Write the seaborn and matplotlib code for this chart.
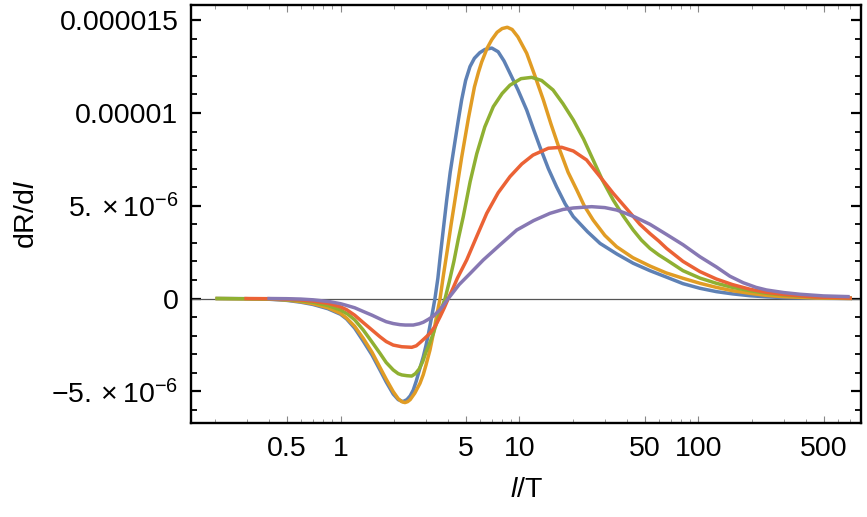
import numpy as np
import pandas as pd
import matplotlib
matplotlib.use('Agg')
import matplotlib.pyplot as plt
import seaborn as sns
from matplotlib.ticker import FixedLocator, LogLocator, NullFormatter

# curve values (y in units of 1e-6)
blue_x = [0.2, 0.3, 0.4, 0.5, 0.6, 0.7, 0.85, 1.0, 1.08, 1.2, 1.34, 1.5, 1.66, 1.8, 1.97, 2.1, 2.23,
          2.35, 2.45, 2.55, 2.65, 2.75, 2.9, 3.0, 3.1, 3.25, 3.37, 3.5, 3.6, 3.75, 3.92, 4.1, 4.35,
          4.55, 4.75, 5.0, 5.29, 5.6, 6.0, 6.4, 7.0, 7.6, 8.2, 8.85, 9.8, 10.97, 12.0, 13.0, 14.5,
          16.1, 18.0, 20.0, 24.0, 28.2, 35.0, 43.2, 53.6, 66.4, 82, 102, 126, 155, 194, 240, 298,
          450, 720]
blue_y = [0, -0.01, -0.04, -0.1, -0.2, -0.32, -0.55, -0.85, -1.1, -1.6, -2.3, -3.05, -3.85, -4.5,
          -5.15, -5.45, -5.56, -5.45, -5.25, -4.93, -4.45, -3.9, -3.14, -2.55, -1.9, -0.85, 0, 1.1,
          2.2, 3.7, 5.31, 6.8, 8.4, 9.6, 10.7, 11.75, 12.5, 12.95, 13.25, 13.42, 13.5, 13.3, 12.8,
          12.14, 11.25, 10.16, 9.1, 8.18, 7.0, 6.03, 5.1, 4.41, 3.6, 2.97, 2.4, 1.9, 1.5, 1.15,
          0.8, 0.55, 0.37, 0.25, 0.15, 0.09, 0.05, 0.015, 0.0]

orange_x = [0.2, 0.4, 0.5, 0.6, 0.7, 0.85, 1.0, 1.08, 1.2, 1.34, 1.5, 1.66, 1.8, 1.97, 2.1, 2.2,
            2.29, 2.37, 2.45, 2.6, 2.78, 2.9, 3.0, 3.16, 3.3, 3.45, 3.6, 3.75, 3.95, 4.15, 4.36,
            4.75, 5.18, 5.6, 5.9, 6.15, 6.6, 7.0, 7.5, 8.0, 8.55, 9.1, 9.8, 10.97, 12.2, 13.6, 15.0,
            16.8, 18.7, 20.9, 23.0, 25.8, 30.0, 34.9, 43.0, 53.6, 66.0, 82, 102, 126, 155, 194,
            240, 298, 450, 720]
orange_y = [0, -0.03, -0.08, -0.17, -0.28, -0.5, -0.8, -1.05, -1.5, -2.15, -2.9, -3.71, -4.35,
            -5.02, -5.4, -5.56, -5.61, -5.56, -5.45, -5.1, -4.57, -4.1, -3.6, -2.78, -1.9, -0.9,
            0, 1.2, 2.6, 4.0, 5.31, 7.6, 9.7, 11.4, 12.2, 12.75, 13.5, 13.95, 14.35, 14.55, 14.62,
            14.5, 14.1, 13.22, 12.0, 10.7, 9.4, 8.0, 6.8, 5.85, 5.0, 4.23, 3.4, 2.79, 2.2, 1.75,
            1.38, 1.09, 0.82, 0.6, 0.42, 0.28, 0.17, 0.1, 0.03, 0.0]

green_x = [0.2, 0.4, 0.5, 0.6, 0.7, 0.85, 1.0, 1.1, 1.2, 1.34, 1.5, 1.66, 1.8, 1.97, 2.1, 2.2,
           2.35, 2.5, 2.62, 2.75, 2.88, 3.0, 3.15, 3.3, 3.55, 3.84, 4.05, 4.3, 4.55, 4.85, 5.3,
           5.77, 6.4, 7.14, 8.0, 8.85, 10.2, 11.7, 13.3, 15.4, 17.5, 20.0, 22.8, 25.8, 29.0, 33.4,
           38.0, 43.2, 48.0, 53.6, 60.0, 66.4, 82, 102, 126, 155, 194, 240, 298, 457, 720]
green_y = [0, -0.02, -0.06, -0.12, -0.2, -0.38, -0.62, -0.85, -1.15, -1.7, -2.35, -2.95, -3.45,
           -3.85, -4.05, -4.12, -4.16, -4.18, -4.05, -3.8, -3.4, -2.9, -2.4, -1.88, -0.9, 0, 0.9,
           2.0, 3.2, 4.41, 6.3, 7.8, 9.25, 10.34, 11.05, 11.5, 11.85, 11.92, 11.75, 11.24, 10.5,
           9.62, 8.6, 7.47, 6.4, 5.31, 4.45, 3.69, 3.15, 2.7, 2.35, 2.08, 1.5, 1.1, 0.82, 0.6, 0.42,
           0.28, 0.19, 0.07, 0.02]

red_x = [0.29, 0.4, 0.5, 0.6, 0.7, 0.85, 1.0, 1.08, 1.2, 1.34, 1.5, 1.66, 1.8, 1.97, 2.2, 2.5,
         2.65, 2.8, 2.95, 3.16, 3.4, 3.6, 3.8, 4.0, 4.25, 4.5, 5.07, 5.8, 6.56, 7.6, 8.85, 10.3,
         11.9, 14.5, 17.2, 20.0, 23.7, 28.0, 33.4, 40.0, 47.1, 53.6, 60.0, 66.4, 82, 102, 126, 155,
         194, 240, 298, 450, 720]
red_y = [0, -0.01, -0.04, -0.08, -0.14, -0.26, -0.45, -0.6, -0.9, -1.3, -1.7, -2.06, -2.32, -2.51,
         -2.6, -2.63, -2.55, -2.35, -2.15, -1.88, -1.45, -0.98, -0.5, 0, 0.55, 1.1, 2.08, 3.4, 4.59,
         5.7, 6.57, 7.25, 7.73, 8.1, 8.15, 7.95, 7.47, 6.6, 5.67, 4.8, 4.0, 3.5, 3.1, 2.7, 2.0,
         1.45, 1.05, 0.75, 0.5, 0.33, 0.22, 0.08, 0.02]

purple_x = [0.39, 0.5, 0.6, 0.7, 0.87, 1.0, 1.08, 1.2, 1.34, 1.5, 1.66, 1.8, 1.97, 2.15, 2.3, 2.55,
            2.75, 2.9, 3.1, 3.3, 3.6, 3.8, 4.0, 4.6, 5.3, 6.28, 7.8, 9.65, 12.0, 14.8, 17.5, 20.0,
            25.3, 30.0, 34.9, 39.0, 44.0, 53.6, 66.4, 82, 102, 126, 150, 178, 210, 240, 300, 369,
            500, 701]
purple_y = [0, -0.01, -0.03, -0.07, -0.17, -0.28, -0.37, -0.5, -0.7, -0.9, -1.1, -1.25, -1.35,
            -1.41, -1.43, -1.43, -1.36, -1.28, -1.12, -0.95, -0.6, -0.3, 0, 0.75, 1.35, 2.08, 2.9,
            3.69, 4.2, 4.59, 4.8, 4.88, 4.95, 4.9, 4.77, 4.6, 4.4, 4.0, 3.45, 2.9, 2.25, 1.7, 1.2,
            0.85, 0.6, 0.46, 0.32, 0.23, 0.14, 0.1]

series_names = ['blue', 'orange', 'green', 'red', 'purple']
series_colors = ['#5E81B5', '#E19C24', '#8FB032', '#EB6235', '#8778B3']

xtick_values = [0.5, 1, 5, 10, 50, 100, 500]
xtick_labels = ['0.5', '1', '5', '10', '50', '100', '500']
ytick_values = [-5e-6, 0, 5e-6, 1e-5, 1.5e-5]
ytick_labels = [r'$-5.\times10^{-6}$', '0', r'$5.\times10^{-6}$', '0.00001', '0.000015']

frames = []
for name, xs, ys in zip(series_names,
                        [blue_x, orange_x, green_x, red_x, purple_x],
                        [blue_y, orange_y, green_y, red_y, purple_y]):
    frames.append(pd.DataFrame({'x': xs, 'y': np.array(ys) * 1e-6, 'curve': name}))
df = pd.concat(frames, ignore_index=True)

sns.set_theme(style='white')
plt.rcParams['font.family'] = ['Liberation Sans', 'DejaVu Sans']
plt.rcParams['mathtext.fontset'] = 'custom'
plt.rcParams['mathtext.rm'] = 'Liberation Sans'
plt.rcParams['mathtext.it'] = 'Liberation Sans:italic'
plt.rcParams['mathtext.default'] = 'regular'
plt.rcParams['text.color'] = 'black'
plt.rcParams['axes.labelcolor'] = 'black'

fig = plt.figure(figsize=(8.67, 5.17), dpi=100)
ax = fig.add_axes([191 / 867, 94 / 517, 670 / 867, 418 / 517])

ax.axhline(0, color='#555555', lw=0.9, zorder=1)
sns.lineplot(data=df, x='x', y='y', hue='curve', hue_order=series_names,
             palette=series_colors, sort=False, estimator=None, lw=2.5,
             solid_joinstyle='round', solid_capstyle='butt',
             legend=False, ax=ax, zorder=2)

ax.set_xscale('log')
ax.set_xlim(0.146, 810)
ax.set_ylim(-6.71e-6, 1.582e-5)

ax.xaxis.set_major_locator(FixedLocator(xtick_values))
ax.set_xticklabels(xtick_labels)
ax.xaxis.set_minor_locator(LogLocator(base=10, subs=np.arange(1, 10), numticks=30))
ax.xaxis.set_minor_formatter(NullFormatter())
ax.yaxis.set_major_locator(FixedLocator(ytick_values))
ax.set_yticklabels(ytick_labels)
ax.yaxis.set_minor_locator(FixedLocator(np.arange(-6, 16) * 1e-6))

for s in ax.spines.values():
    s.set_visible(True)
    s.set_linewidth(1.7)
    s.set_color('black')

ax.tick_params(axis='x', which='major', direction='in', length=5, width=0.8, color='#888888',
               top=True, bottom=True, labelsize=20.5, pad=9, labelcolor='black')
ax.tick_params(axis='x', which='minor', direction='in', length=3, width=0.7, color='#999999',
               top=True, bottom=True)
ax.tick_params(axis='y', which='major', direction='in', length=7, width=1.6, color='black',
               left=True, right=True, labelsize=20.5, pad=9, labelcolor='black')
ax.tick_params(axis='y', which='minor', direction='in', length=4, width=1.3, color='black',
               left=True, right=True)

ax.set_xlabel(r'$\mathit{l}$/T', fontsize=20.5)
ax.set_ylabel(r'dR/d$\mathit{l}$', fontsize=20.5)
ax.xaxis.set_label_coords(0.5, -0.13)
ax.yaxis.set_label_coords(-0.225, 0.5)

fig.savefig('out.png', dpi=100)
